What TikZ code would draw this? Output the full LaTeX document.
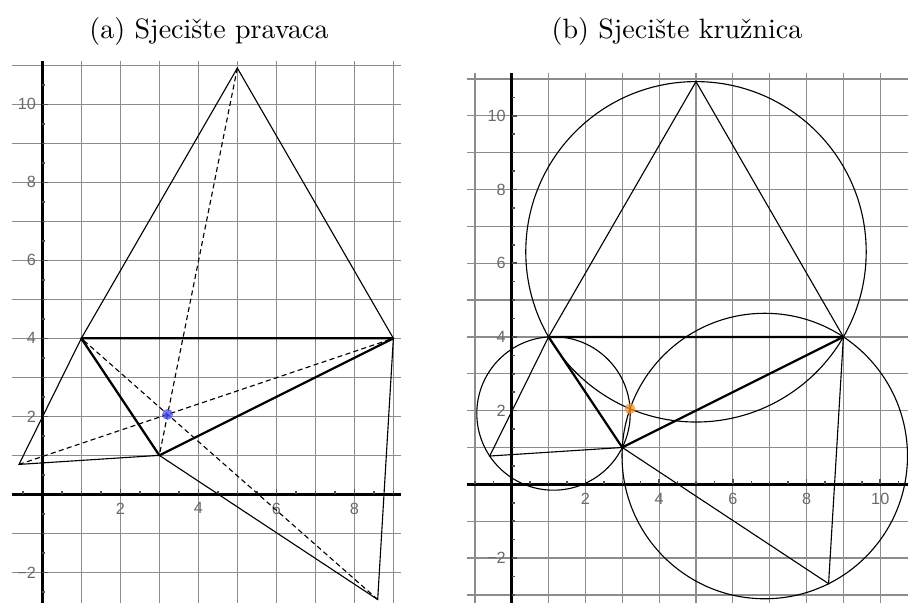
\documentclass[tikz,border=0pt]{standalone}
\usepackage{fontspec}
\newfontfamily\tickfont{Liberation Sans}
\usetikzlibrary{calc}
\definecolor{gridgray}{HTML}{8C8C8C}
\definecolor{tickgray}{HTML}{6A6A6A}
\definecolor{tickdark}{HTML}{4D4D4D}
\definecolor{fermatblue}{HTML}{4A4AF2}
\definecolor{fermatorange}{HTML}{F7952E}
\tikzset{
  gridline/.style={draw=gridgray,line width=0.45pt},
  axisline/.style={draw=black,line width=0.9pt},
  tickmark/.style={draw=tickdark,line width=0.55pt},
  ticklabel/.style={font=\tickfont\fontsize{5.8}{6}\selectfont,text=tickgray,inner sep=0pt},
  caption/.style={font=\normalsize,inner sep=0pt,anchor=base},
  triside/.style={draw=black,line width=0.8pt,line join=round},
  aux/.style={draw=black,line width=0.4pt},
  cevian/.style={aux,dash pattern=on 1.8pt off 1.2pt},
  fermat/.style={circle,fill=#1,fill opacity=0.75,minimum size=3.9pt,inner sep=0pt}
}
\begin{document}
\begin{tikzpicture}
  \useasboundingbox (0,0) rectangle (11.395,7.568);
  \node[caption] (capa) at (2.623,7.091) {(a) Sjecište pravaca};
  \node[caption] (capb) at (8.496,7.091) {(b) Sjecište kružnica};

  % (a) sjeciste pravaca
  \begin{scope}[shift={(0.531,1.364)},scale=0.4895]
    \foreach \x in {1,...,9} \draw[gridline] (\x,-2.79) -- (\x,11.1);
    \foreach \y in {-2,-1,1,2,...,11} \draw[gridline] (-0.785,\y) -- (9.2,\y);
    \draw[axisline] (-0.785,0) -- (9.2,0);
    \draw[axisline] (0,-2.79) -- (0,11.1);
    \foreach \x in {-0.5,0.5,1,...,9} \draw[tickmark] (\x,0) -- (\x,0.08);
    \foreach \y in {-2.5,-2,...,-0.5,0.5,1,...,10.5} \draw[tickmark] (0,\y) -- (0.08,\y);
    \foreach \x in {2,4,6,8} {
      \draw[tickmark] (\x,0) -- (\x,0.15);
      \node[ticklabel,anchor=north] (xa\x) at (\x,-0.2) {\x};
    }
    \foreach \y/\t in {-2/−2,2/2,4/4,6/6,8/8,10/10} {
      \draw[tickmark] (0,\y) -- (0.15,\y);
      \node[ticklabel,anchor=east] (ya\y) at (-0.15,\y) {\t};
    }

    \coordinate (A1) at (1,4);
    \coordinate (B1) at (3,1);
    \coordinate (C1) at (9,4);
    \coordinate (T1) at (5,10.9282);
    \coordinate (L1) at (-0.59808,0.76795);
    \coordinate (R1) at (8.59808,-2.69615);
    \coordinate (F1) at (intersection of T1--B1 and L1--C1);

    \draw[aux] (A1) -- (T1) -- (C1);
    \draw[aux] (A1) -- (L1) -- (B1);
    \draw[aux] (B1) -- (R1) -- (C1);
    \draw[cevian] (T1) -- (B1);
    \draw[cevian] (L1) -- (C1);
    \draw[cevian] (R1) -- (A1);
    \draw[triside] (A1) -- (B1) -- (C1) -- cycle;
    \node[fermat=fermatblue] (F1dot) at (F1) {};
  \end{scope}

  % (b) sjeciste kruznica
  \begin{scope}[shift={(6.422,1.490)},scale=0.4625]
    \foreach \x in {-1,...,10} \draw[gridline] (\x,-3.22) -- (\x,11.15);
    \foreach \y in {-3,-2,-1,1,2,...,11} \draw[gridline] (-1.21,\y) -- (10.76,\y);
    \draw[axisline] (-1.21,0) -- (10.76,0);
    \draw[axisline] (0,-3.22) -- (0,11.15);
    \foreach \x in {-1,-0.5,0.5,1,...,10.5} \draw[tickmark] (\x,0) -- (\x,0.08);
    \foreach \y in {-3,-2.5,...,-0.5,0.5,1,...,10.5} \draw[tickmark] (0,\y) -- (0.08,\y);
    \foreach \x in {2,4,6,8,10} {
      \draw[tickmark] (\x,0) -- (\x,0.15);
      \node[ticklabel,anchor=north] (xb\x) at (\x,-0.22) {\x};
    }
    \foreach \y/\t in {-2/−2,2/2,4/4,6/6,8/8,10/10} {
      \draw[tickmark] (0,\y) -- (0.15,\y);
      \node[ticklabel,anchor=east] (yb\y) at (-0.15,\y) {\t};
    }

    \coordinate (A2) at (1,4);
    \coordinate (B2) at (3,1);
    \coordinate (C2) at (9,4);
    \coordinate (T2) at (5,10.9282);
    \coordinate (L2) at (-0.59808,0.76795);
    \coordinate (R2) at (8.59808,-2.69615);
    \coordinate (OT) at (5,6.30940);
    \coordinate (OL) at (1.13397,1.92265);
    \coordinate (OR) at (6.86603,0.76795);
    \coordinate (F2) at (intersection of T2--B2 and L2--C2);

    \draw[aux] (OT) circle (4.61880);
    \draw[aux] (OL) circle (2.08167);
    \draw[aux] (OR) circle (3.87298);
    \draw[aux] (A2) -- (T2) -- (C2);
    \draw[aux] (A2) -- (L2) -- (B2);
    \draw[aux] (B2) -- (R2) -- (C2);
    \draw[triside] (A2) -- (B2) -- (C2) -- cycle;
    \node[fermat=fermatorange] (F2dot) at (F2) {};
  \end{scope}
\end{tikzpicture}
\end{document}
